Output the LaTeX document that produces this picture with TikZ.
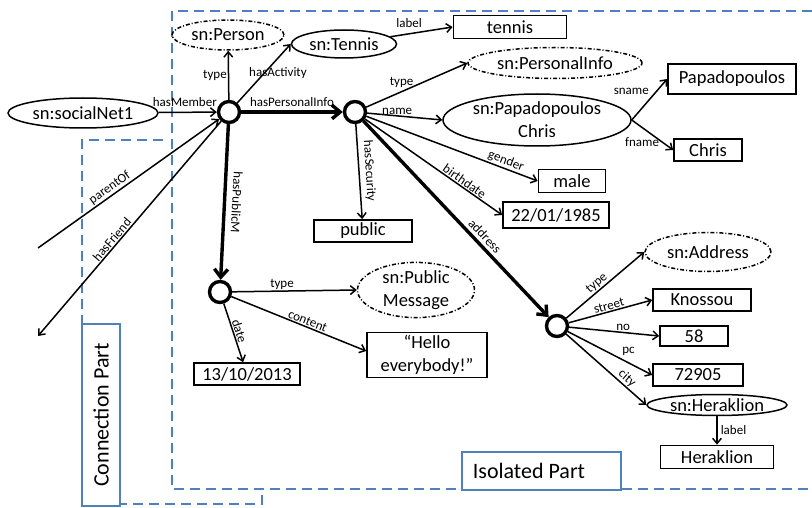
\documentclass[tikz,border=0pt]{standalone}
\usepackage{fontspec}
\setmainfont{Carlito}
\usetikzlibrary{arrows.meta,shapes.geometric}
\definecolor{ofblue}{HTML}{4F81BD}
\begin{document}
\begin{tikzpicture}[x=1pt,y=-1pt,
  every node/.style={font=\fontsize{18.5}{23}\selectfont},
  lit/.style={draw, line width=1.7pt, rectangle, inner sep=0pt},
  res/.style={draw, ellipse, line width=1.5pt, inner sep=0pt},
  cls/.style={res, dash pattern=on 4pt off 2pt on 1pt off 2pt},
  bnode/.style={draw, circle, line width=3.4pt, minimum size=21pt, inner sep=0pt},
  conn/.style={line width=1.5pt, -{Straight Barb[length=3pt 1.5,width=5pt 2.5]}},
  rconn/.style={line width=1.5pt, {Straight Barb[length=3pt 1.5,width=5pt 2.5]}-},
  bconn/.style={conn, line width=3.4pt},
  lbl/.style={font=\fontsize{13}{14}\selectfont, inner sep=1pt},
  part/.style={dash pattern=on 10pt off 6pt, line width=2.7pt, draw=ofblue},
  partlabel/.style={draw=ofblue, line width=2.7pt, fill=white, inner sep=0pt}
]
\useasboundingbox (0,0) rectangle (812,508);

% dashed part boxes
\draw[part] (812,11) -- (172,11) -- (172,489) -- (812,489);
\draw[part] (163,140) -- (82,140) -- (82,504) -- (262,504) -- (262,489);

% nodes
\node[res, minimum width=150pt, minimum height=30pt] (sn1) at (83,113) {sn:socialNet1};
\node[bnode] (b1) at (229,112) {};
\node[cls, minimum width=112pt, minimum height=30pt] (person) at (228,35) {sn:Person};
\node[res, minimum width=105pt, minimum height=28pt] (stennis) at (344,44) {sn:Tennis};
\node[lit, minimum width=113pt, minimum height=23pt] (tennis) at (510,27) {tennis};
\node[bnode] (b2) at (355,112) {};
\node[cls, minimum width=174pt, minimum height=31pt] (pinfo) at (555,63) {sn:PersonalInfo};
\node[res, minimum width=188pt, minimum height=52pt, align=center] (pchris) at (537,120) {sn:Papadopoulos\\Chris};
\node[lit, minimum width=128pt, minimum height=30pt] (papa) at (732,79) {Papadopoulos};
\node[lit, minimum width=68pt, minimum height=22pt] (chris) at (708,150) {Chris};
\node[lit, minimum width=67pt, minimum height=23pt] (male) at (572,181) {male};
\node[lit, minimum width=106pt, minimum height=26pt] (d1985) at (556,215) {22/01/1985};
\node[lit, minimum width=98pt, minimum height=22pt] (public) at (363,231) {public};
\node[bnode] (b3) at (220,292) {};
\node[cls, minimum width=117pt, minimum height=50pt, align=center] (pubmsg) at (416,290) {sn:Public\\Message};
\node[lit, minimum width=120pt, minimum height=45pt, align=center] (hello) at (427,355) {``Hello\\everybody!''};
\node[lit, minimum width=106pt, minimum height=22pt] (d2013) at (247,374) {13/10/2013};
\node[bnode] (b4) at (557,326) {};
\node[cls, minimum width=126pt, minimum height=39pt] (addr) at (708,252) {sn:Address};
\node[lit, minimum width=98pt, minimum height=22pt] (knossou) at (702,300) {Knossou};
\node[lit, minimum width=68pt, minimum height=20pt] (n58) at (694,336) {58};
\node[lit, minimum width=90pt, minimum height=22pt] (pc) at (698,375) {72905};
\node[res, minimum width=140pt, minimum height=21pt] (herak) at (717,405) {sn:Heraklion};
\node[lit, minimum width=113pt, minimum height=23pt] (herakr) at (717,457) {Heraklion};

\coordinate (pf) at (38,248);
\coordinate (hf) at (38,336);

% connectors
\draw[conn] (sn1) -- (b1) node[lbl, pos=0.45, above=4pt] {hasMember};
\draw[conn] (b1) -- (person) node[lbl, midway, left] {type};
\draw[conn] (b1) -- (stennis.west) node[lbl, midway, xshift=14pt] {hasActivity};
\draw[conn] (stennis) -- (tennis.west) node[lbl, pos=0.3, above=4pt] {label};
\draw[bconn] (b1) -- (b2) node[lbl, midway, above=3pt] {hasPersonalInfo};
\draw[bconn] (b1) -- (b3) node[lbl, midway, sloped, allow upside down, above=5pt] {hasPublicM};
\draw[conn] (pf) -- (b1) node[lbl, pos=0.42, sloped, above] {parentOf};
\draw[rconn] (hf) -- (b1) node[lbl, pos=0.43, sloped, above] {hasFriend};

\draw[conn] (b2) -- (pinfo.west) node[lbl, pos=0.35, above=2pt] {type};
\draw[conn] (b2) -- (pchris.west) node[lbl, pos=0.4, above] {name};
\draw[conn] (b2) -- (public) node[lbl, midway, sloped, above=3pt] {hasSecurity};
\draw[conn] (b2) -- (male.west) node[lbl, pos=0.8, sloped, above] {gender};
\draw[conn] (b2) -- (d1985.west) node[lbl, pos=0.7, sloped, above] {birthdate};
\draw[bconn] (b2) -- (b4) node[lbl, pos=0.62, sloped, above=2pt] {address};

\draw[conn] (pchris.east) -- (papa.west) node[lbl, pos=0.7, left=6pt] {sname};
\draw[conn] (pchris.east) -- (chris.west) node[lbl, pos=0.25, below=8pt] {fname};

\draw[conn] (b3) -- (pubmsg.west) node[lbl, pos=0.4, above] {type};
\draw[conn] (b3) -- ([yshift=4pt]hello.west) node[lbl, pos=0.55, sloped, above] {content};
\draw[conn] (b3) -- (d2013) node[lbl, midway, sloped, above] {date};

\draw[conn] (b4) -- (addr.west) node[lbl, pos=0.45, sloped, above] {type};
\draw[conn] (b4) -- (knossou.west) node[lbl, pos=0.5, sloped, above] {street};
\draw[conn] (b4) -- (n58.west) node[lbl, pos=0.6, above] {no};
\draw[conn] (b4) -- (pc.west) node[lbl, pos=0.72, above=5pt] {pc};
\draw[conn] (b4) -- (herak.west) node[lbl, pos=0.7, sloped, above] {city};
\draw[conn] (herak) -- (herakr) node[lbl, midway, right=2pt] {label};

% part labels
\node[partlabel, rotate=90, minimum width=182pt, minimum height=38pt, font=\fontsize{22}{26}\selectfont] (cpart) at (101,415) {Connection Part};
\node[partlabel, minimum width=159pt, minimum height=38pt] (ipart) at (541.5,471) {};
\node[anchor=west, inner sep=0pt, xshift=12pt, font=\fontsize{22}{26}\selectfont] (iptext) at (ipart.west) {Isolated Part};
\end{tikzpicture}
\end{document}
